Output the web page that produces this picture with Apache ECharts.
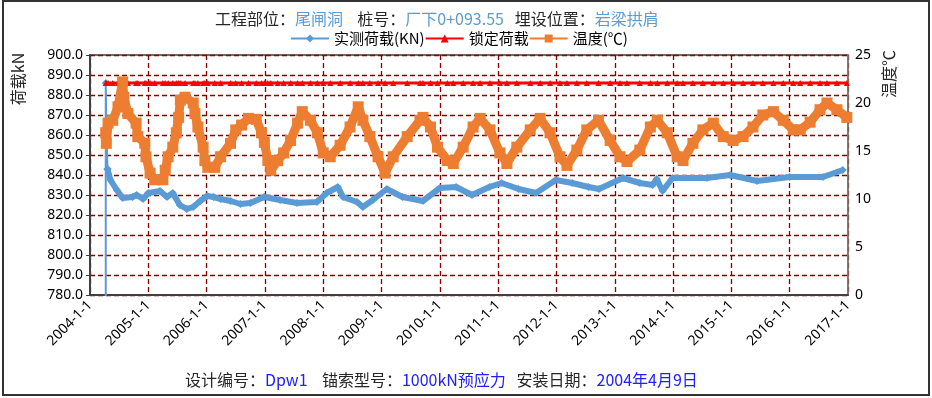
<!DOCTYPE html>
<html>
<head>
<meta charset="utf-8">
<script src="https://cdn.jsdelivr.net/npm/echarts@6/dist/echarts.min.js"></script>
<style>
    html, body { margin: 0; padding: 0; background: #fff; }
    .chart1 { width: 932px; height: 398px; }
</style>
</head>
<body>
<div class="chart1" id="chart1"></div>
<script>
    // 实测荷载 [年份(小数), kN]
    var loadPoints = [
        [2004.27, 0], [2004.27, 886], [2004.28, 864], [2004.30, 843], [2004.35, 837.5],
        [2004.46, 832.5], [2004.56, 828.5], [2004.73, 829], [2004.80, 830], [2004.91, 828],
        [2005.00, 831], [2005.20, 832], [2005.32, 829], [2005.42, 831], [2005.54, 825],
        [2005.66, 823], [2005.77, 824], [2005.89, 827], [2006.01, 829.5], [2006.12, 829],
        [2006.24, 828], [2006.41, 827], [2006.58, 825.5], [2006.75, 826], [2006.99, 829],
        [2007.26, 827.5], [2007.55, 826], [2007.89, 826.5], [2008.06, 831], [2008.25, 834],
        [2008.34, 829], [2008.58, 826.5], [2008.68, 824], [2008.85, 827.5], [2009.09, 833],
        [2009.36, 829], [2009.71, 827], [2010.00, 833.5], [2010.28, 834], [2010.55, 830],
        [2010.85, 834], [2011.06, 836], [2011.35, 833], [2011.65, 831], [2011.99, 837.5],
        [2012.27, 836], [2012.55, 834], [2012.73, 833], [2013.14, 838.5], [2013.43, 836],
        [2013.65, 835], [2013.72, 838], [2013.82, 832], [2013.99, 838.5], [2014.58, 838.5],
        [2014.98, 840], [2015.44, 837], [2016.00, 839], [2016.57, 839], [2016.91, 842.5]
    ];

    // 锁定荷载 kN
    var lockLoad = 886;

    // 温度 [年份(小数), ℃]
    var tempPoints = [
        [2004.27, 16.9], [2004.28, 15.8], [2004.31, 17.9], [2004.39, 18.2], [2004.48, 19.6],
        [2004.56, 22.2], [2004.58, 20.6], [2004.65, 18.9], [2004.79, 17.9], [2004.82, 16.5],
        [2004.94, 15.8], [2004.96, 14.4], [2005.03, 12.7], [2005.11, 12.0], [2005.25, 12.0],
        [2005.29, 13.0], [2005.34, 14.4], [2005.42, 15.4], [2005.48, 16.9], [2005.52, 18.5],
        [2005.55, 20.3], [2005.63, 20.6], [2005.77, 20.0], [2005.80, 18.9], [2005.85, 17.5],
        [2005.94, 15.4], [2005.97, 14.0], [2006.02, 13.3], [2006.14, 13.3], [2006.24, 14.4],
        [2006.41, 15.8], [2006.50, 17.2], [2006.60, 17.7], [2006.72, 18.4], [2006.85, 18.3],
        [2006.94, 16.9], [2006.99, 15.9], [2007.05, 14.0], [2007.10, 13.0], [2007.22, 14.0],
        [2007.32, 14.8], [2007.44, 16.1], [2007.56, 17.9], [2007.64, 19.1], [2007.78, 18.2],
        [2007.90, 16.9], [2008.00, 14.8], [2008.12, 14.4], [2008.29, 15.6], [2008.46, 17.5],
        [2008.60, 19.6], [2008.68, 18.2], [2008.80, 16.5], [2008.94, 14.4], [2009.06, 12.7],
        [2009.20, 14.4], [2009.44, 16.5], [2009.66, 18.2], [2009.71, 18.5], [2009.84, 17.5],
        [2009.96, 15.4], [2010.13, 14.0], [2010.23, 13.7], [2010.40, 15.4], [2010.57, 17.5],
        [2010.69, 18.4], [2010.86, 17.2], [2011.03, 14.8], [2011.15, 13.7], [2011.32, 15.4],
        [2011.55, 17.2], [2011.72, 18.4], [2011.89, 16.9], [2012.06, 14.4], [2012.18, 13.5],
        [2012.35, 15.1], [2012.52, 17.2], [2012.72, 18.2], [2012.92, 16.1], [2013.09, 14.4],
        [2013.21, 13.9], [2013.43, 15.1], [2013.61, 17.5], [2013.73, 18.2], [2013.90, 16.9],
        [2014.07, 14.4], [2014.17, 14.0], [2014.34, 15.8], [2014.51, 17.2], [2014.69, 17.9],
        [2014.86, 16.5], [2015.03, 16.1], [2015.20, 16.5], [2015.37, 17.5], [2015.54, 18.75],
        [2015.72, 19.1], [2015.89, 18.2], [2016.06, 17.2], [2016.18, 17.2], [2016.35, 18.0],
        [2016.52, 19.3], [2016.64, 20.0], [2016.81, 19.3], [2016.98, 18.5]
    ];

    var seriesNames = ['实测荷载(KN)', '锁定荷载', '温度(℃)'];
    var colors = ['#5B9BD5', '#FF0000', '#ED7D31'];

    var fontCN = "'Noto Sans CJK SC', sans-serif";
    var fontNum = "'Noto Sans', 'Noto Sans CJK SC', sans-serif";

    var lockPoints = tempPoints.map(function (p) { return [p[0], lockLoad]; });

    var chart1 = echarts.init(document.getElementById('chart1'));
    var option = {
        animation: false,
        textStyle: { fontFamily: fontCN },
        title: [
            {
                left: 210,
                top: 6,
                text: '{k|工程部位：}{v|尾闸洞}{k|    桩号：}{v|厂下0+093.55}{k|   埋设位置：}{v|岩梁拱肩}',
                textStyle: {
                    rich: {
                        k: { fontSize: 16, color: '#262626', fontWeight: 'normal', fontFamily: fontCN },
                        v: { fontSize: 16, color: '#5B9BD5', fontWeight: 'normal', fontFamily: fontCN }
                    }
                }
            },
            {
                left: 180,
                top: 367,
                text: '{k|设计编号：}{b|Dpw1}{k|    锚索型号：}{b|1000kN预应力}{k|   安装日期：}{b|2004年4月9日}',
                textStyle: {
                    rich: {
                        k: { fontSize: 16, color: '#262626', fontWeight: 'normal', fontFamily: fontCN },
                        b: { fontSize: 16, color: '#2020FF', fontWeight: 'normal', fontFamily: fontCN }
                    }
                }
            }
        ],
        legend: {
            top: 31,
            left: 290,
            padding: 0,
            itemWidth: 38,
            itemHeight: 10,
            itemGap: 0,
            data: seriesNames,
            textStyle: { fontSize: 15, color: '#000', fontFamily: fontCN }
        },
        grid: {
            left: 90,
            right: 84,
            top: 55,
            bottom: 103,
            show: true,
            borderColor: '#404040',
            borderWidth: 1.5
        },
        xAxis: {
            type: 'value',
            min: 2004,
            max: 2017,
            interval: 1,
            axisLine: { lineStyle: { color: '#404040', width: 2 } },
            axisTick: { show: false },
            axisLabel: {
                rotate: 45,
                margin: 8,
                color: '#000',
                fontSize: 14,
                fontFamily: fontNum,
                formatter: function (v) { return v + '-1-1'; }
            },
            splitLine: { lineStyle: { type: [5, 3], color: '#8B0000', width: 1.3 } }
        },
        yAxis: [
            {
                type: 'value',
                min: 780,
                max: 900,
                interval: 10,
                axisLine: { show: true, lineStyle: { color: '#404040', width: 2 } },
                axisTick: { show: true, length: 4, lineStyle: { color: '#404040' } },
                axisLabel: {
                    color: '#000',
                    fontSize: 14,
                    fontFamily: fontNum,
                    margin: 7,
                    formatter: function (v) { return v.toFixed(1); }
                },
                splitLine: { lineStyle: { type: [5, 3], color: '#8B0000', width: 1.3 } }
            },
            {
                type: 'value',
                min: 0,
                max: 25,
                interval: 5,
                position: 'right',
                axisLine: { show: true, lineStyle: { color: '#808080', width: 1.5 } },
                axisTick: { show: false },
                axisLabel: { color: '#000', fontSize: 14, fontFamily: fontNum, margin: 7 },
                splitLine: { show: false }
            }
        ],
        graphic: [
            {
                type: 'rect',
                shape: { x: 3, y: 1, width: 926, height: 394 },
                style: { fill: 'none', stroke: '#333', lineWidth: 2 },
                silent: true
            },
            {
                type: 'text',
                x: 18,
                y: 79,
                rotation: Math.PI / 2,
                style: { text: '荷载kN', fontSize: 16, fill: '#262626', align: 'center', verticalAlign: 'middle', fontFamily: fontCN }
            },
            {
                type: 'text',
                x: 889,
                y: 74,
                rotation: Math.PI / 2,
                style: { text: '温度℃', fontSize: 16, fill: '#262626', align: 'center', verticalAlign: 'middle', fontFamily: fontCN }
            }
        ],
        series: [
            {
                // 张拉起始段（细线）
                name: seriesNames[0],
                type: 'line',
                yAxisIndex: 0,
                data: loadPoints.slice(0, 4),
                symbol: 'diamond',
                symbolSize: 8,
                showAllSymbol: true,
                lineStyle: { color: colors[0], width: 2 },
                itemStyle: { color: colors[0] }
            },
            {
                name: seriesNames[0],
                type: 'line',
                yAxisIndex: 0,
                data: loadPoints.slice(3),
                symbol: 'diamond',
                symbolSize: 8,
                showAllSymbol: true,
                lineStyle: { color: colors[0], width: 6 },
                itemStyle: { color: colors[0] }
            },
            {
                name: seriesNames[1],
                type: 'line',
                yAxisIndex: 0,
                data: lockPoints,
                symbol: 'triangle',
                symbolSize: 6,
                showAllSymbol: true,
                lineStyle: { color: colors[1], width: 3 },
                itemStyle: { color: colors[1] }
            },
            {
                name: seriesNames[2],
                type: 'line',
                yAxisIndex: 1,
                data: tempPoints,
                symbol: 'rect',
                symbolSize: 11,
                showAllSymbol: true,
                lineStyle: { color: colors[2], width: 9 },
                itemStyle: { color: colors[2] }
            }
        ]
    };

    chart1.setOption(option);
    window.addEventListener('resize', function () {
        chart1.resize();
    });
</script>
</body>
</html>
